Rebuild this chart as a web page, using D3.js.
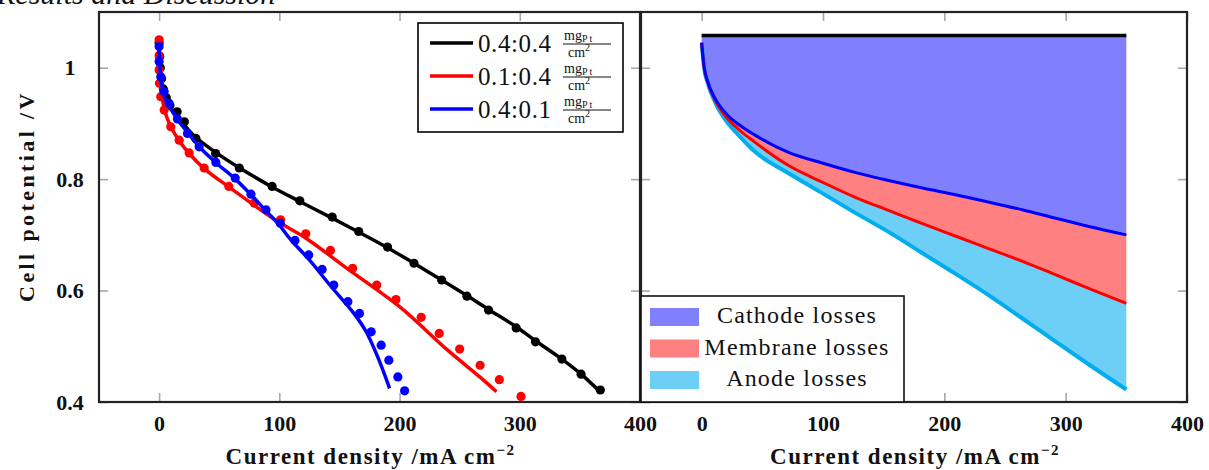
<!DOCTYPE html>
<html>
<head>
<meta charset="utf-8">
<script src="https://cdn.jsdelivr.net/npm/d3@7"></script>
<style>
  body { margin: 0; background: #fff; }
  svg text { font-family: "Liberation Serif", "Times New Roman", serif; fill: #111; }
</style>
</head>
<body>
<svg id="fig" width="1209" height="470"></svg>
<script>
// ---- data: [current density mA/cm2, cell potential V] ----
const dots_04_04 = [[0,1.045],[0.5,1.02],[1,1.0],[2,0.98],[3.5,0.962],[6,0.946],[9,0.932],[15,0.921],[21,0.903],[30.6,0.873],[47,0.846],[66.7,0.82],[94,0.787],[117,0.761],[144,0.732],[166,0.706],[190,0.678],[212,0.649],[235,0.619],[256,0.59],[274,0.565],[297,0.533],[313,0.508],[335,0.477],[351,0.45],[367,0.4215]];
const dots_01_04 = [[0,1.05],[0,1.022],[0,0.996],[0.3,0.972],[1.4,0.948],[4.2,0.924],[9.7,0.894],[16.7,0.87],[25,0.847],[37.5,0.82],[58,0.787],[79,0.757],[101,0.727],[122,0.702],[142.5,0.672],[161,0.64],[181,0.61],[197,0.584],[218,0.552],[233,0.523],[250,0.495],[267,0.466],[283,0.44],[301,0.41]];
const dots_04_01 = [[0,1.038],[0,1.011],[1.4,0.984],[4.2,0.957],[8.3,0.936],[15.3,0.908],[23.6,0.882],[33.3,0.858],[47.2,0.83],[63.3,0.802],[76.4,0.773],[88.9,0.745],[100.8,0.721],[113,0.69],[124.4,0.664],[135.6,0.638],[145.3,0.61],[157,0.58],[166.7,0.559],[176.4,0.526],[184.7,0.502],[191.1,0.475],[198.6,0.445],[204.2,0.42]];

const model_04_04 = [[0,1.045],[1,0.99],[3,0.962],[6,0.943],[10,0.927],[20,0.9],[30,0.876],[47,0.848],[67,0.82],[94,0.786],[117,0.76],[144,0.73],[166,0.705],[190,0.677],[212,0.649],[235,0.619],[256,0.591],[274,0.566],[297,0.535],[313,0.51],[335,0.477],[351,0.45],[365,0.422]];
const model_01_04 = [[0,1.05],[0.5,1.0],[2,0.955],[5,0.92],[10,0.893],[17,0.868],[25,0.846],[38,0.818],[58,0.786],[83,0.747],[100,0.722],[120,0.697],[160,0.634],[200,0.571],[240,0.493],[266.7,0.445],[280.6,0.4185]];
const model_04_01 = [[0,1.04],[1,0.99],[3,0.96],[6,0.94],[10,0.925],[15,0.908],[24,0.883],[33,0.859],[47,0.83],[63,0.801],[76,0.773],[88,0.745],[99,0.72],[110,0.69],[125,0.655],[142,0.61],[162,0.559],[172,0.527],[182,0.48],[191.7,0.4246]];

// loss breakdown (right panel)
const lossCurrent   = [0, 2, 5, 11, 20, 30, 44, 72, 100, 127, 155, 182, 210, 237, 265, 292, 320, 350];
const reversibleV   = 1.058;
const afterCathodeV = [1.045,1.002,0.975,0.945,0.918,0.899,0.879,0.8475,0.8285,0.8117,0.797,0.784,0.7716,0.7585,0.7447,0.7298,0.7147,0.700];
const afterMembrV   = [1.045,1.001,0.974,0.942,0.912,0.890,0.866,0.824,0.794,0.767,0.743,0.720,0.697,0.675,0.652,0.628,0.603,0.577];
const cellV         = [1.044,1.000,0.972,0.938,0.905,0.880,0.849,0.810,0.774,0.739,0.704,0.667,0.629,0.591,0.549,0.508,0.466,0.4225];

const seriesNames  = ["0.4:0.4", "0.1:0.4", "0.4:0.1"];
const lossNames    = ["Cathode losses", "Membrane losses", "Anode losses"];
const xTicks       = [0, 100, 200, 300, 400];
const yTicks       = [0.4, 0.6, 0.8, 1.0];
const yTickLabels  = ["0.4", "0.6", "0.8", "1"];

// ---- layout ----
const svg = d3.select("#fig");
const plotTop = 12, plotBottom = 402;
const y = d3.scaleLinear().domain([0.4, 1.1]).range([plotBottom, plotTop]);
const xL = d3.scaleLinear().domain([-50, 400]).range([99, 640]);
const xR = d3.scaleLinear().domain([-50, 400]).range([641, 1187]);

// running header of the page, cut by the top edge
svg.append("text")
  .attr("x", -3).attr("y", 4)
  .style("font-style", "italic").style("font-size", "30px")
  .text("Results and Discussion");

const drawAxes = (x, labelsY) => {
  const g = svg.append("g");
  const [x0, x1] = x.range();
  g.append("g").attr("transform", `translate(0,${plotBottom})`)
    .call(d3.axisBottom(x).tickValues(xTicks).tickSize(-9).tickPadding(13));
  g.append("g").attr("transform", `translate(0,${plotTop})`)
    .call(d3.axisTop(x).tickValues(xTicks).tickSize(-9).tickFormat(""));
  const left = g.append("g").attr("transform", `translate(${x0},0)`)
    .call(d3.axisLeft(y).tickValues(yTicks).tickSize(-9)
      .tickFormat((d, i) => labelsY ? yTickLabels[i] : ""));
  g.append("g").attr("transform", `translate(${x1},0)`)
    .call(d3.axisRight(y).tickValues(yTicks).tickSize(-9).tickFormat(""));

  g.selectAll(".domain").remove();
  g.selectAll(".tick line").attr("stroke", "#a8a8a8").attr("stroke-width", 1.6);
  g.selectAll(".tick text")
    .style("font-family", "'Liberation Serif', serif")
    .style("font-weight", "bold").style("font-size", "22px").attr("fill", "#111");
  left.selectAll(".tick text").attr("text-anchor", "middle").attr("x", -29);

  g.append("rect")
    .attr("x", x0).attr("y", plotTop).attr("width", x1 - x0).attr("height", plotBottom - plotTop)
    .attr("fill", "none").attr("stroke", "#222").attr("stroke-width", 2.2);

  const t = g.append("text")
    .attr("x", (x0 + x1) / 2 + 1).attr("y", 464)
    .attr("text-anchor", "middle")
    .style("font-weight", "bold").style("font-size", "23px").style("letter-spacing", "1.5px")
    .text("Current density /mA cm");
  t.append("tspan").attr("dy", -9).style("font-size", "15px").text("\u22122");
};

// ---- left panel: polarization curves ----
const colors = ["#000000", "#ff0000", "#0000ff"];
const dots = [dots_04_04, dots_01_04, dots_04_01];
const models = [model_04_04, model_01_04, model_04_01];

drawAxes(xL, true);

const line = d3.line().x(d => xL(d[0])).y(d => y(d[1])).curve(d3.curveCatmullRom.alpha(0.5));
const gl = svg.append("g");
models.forEach((m, i) => {
  gl.append("path").attr("d", line(m))
    .attr("fill", "none").attr("stroke", colors[i]).attr("stroke-width", 3.5);
  gl.selectAll(null).data(dots[i]).enter().append("circle")
    .attr("cx", d => xL(d[0])).attr("cy", d => y(d[1])).attr("r", 4.6)
    .attr("fill", colors[i]);
});

svg.append("text")
  .attr("transform", "translate(34,196) rotate(-90)")
  .attr("text-anchor", "middle")
  .style("font-weight", "bold").style("font-size", "22px").style("letter-spacing", "3.4px")
  .text("Cell potential /V");

// legend (left)
const lg = svg.append("g");
lg.append("rect").attr("x", 418).attr("y", 23).attr("width", 205).attr("height", 109)
  .attr("fill", "#fff").attr("stroke", "#000").attr("stroke-width", 1.6);
seriesNames.forEach((name, i) => {
  const cy = 43 + i * 33;
  lg.append("line").attr("x1", 430).attr("x2", 473).attr("y1", cy).attr("y2", cy)
    .attr("stroke", colors[i]).attr("stroke-width", 3.5);
  lg.append("text").attr("x", 478).attr("y", cy + 9)
    .style("font-size", "25px").style("letter-spacing", "0.6px").text(name);
  const num = lg.append("text").attr("x", 564).attr("y", cy - 3).style("font-size", "14px").text("mg");
  num.append("tspan").attr("dy", 2).style("font-size", "10px").style("letter-spacing", "2px").text("Pt");
  lg.append("line").attr("x1", 563).attr("x2", 611).attr("y1", cy + 1).attr("y2", cy + 1)
    .attr("stroke", "#111").attr("stroke-width", 1);
  const den = lg.append("text").attr("x", 568).attr("y", cy + 14).style("font-size", "14px").text("cm");
  den.append("tspan").attr("dy", -6).style("font-size", "10px").text("2");
});

// ---- right panel: loss breakdown ----
drawAxes(xR, false);

const rows = lossCurrent.map((c, i) => ({ c, cat: afterCathodeV[i], mem: afterMembrV[i], cell: cellV[i] }));
const fills = ["#8080ff", "#ff8080", "#6dcff6"];
const bands = [
  [d => reversibleV, d => d.cat],
  [d => d.cat, d => d.mem],
  [d => d.mem, d => d.cell]
];
const gr = svg.append("g");
bands.forEach((b, i) => {
  const area = d3.area().x(d => xR(d.c)).y0(d => y(b[0](d))).y1(d => y(b[1](d))).curve(d3.curveMonotoneX);
  gr.append("path").attr("d", area(rows)).attr("fill", fills[i]);
});
const rline = acc => d3.line().x(d => xR(d.c)).y(d => y(acc(d))).curve(d3.curveMonotoneX)(rows);
gr.append("path").attr("d", rline(d => reversibleV)).attr("fill", "none").attr("stroke", "#000").attr("stroke-width", 3.5);
gr.append("path").attr("d", rline(d => d.cell)).attr("fill", "none").attr("stroke", "#00aeef").attr("stroke-width", 4);
gr.append("path").attr("d", rline(d => d.mem)).attr("fill", "none").attr("stroke", "#ff0000").attr("stroke-width", 3);
gr.append("path").attr("d", rline(d => d.cat)).attr("fill", "none").attr("stroke", "#0000ff").attr("stroke-width", 3);

// legend (right)
const rg = svg.append("g");
rg.append("rect").attr("x", 641).attr("y", 296).attr("width", 263).attr("height", 106)
  .attr("fill", "#fff").attr("stroke", "#111").attr("stroke-width", 1.6);
lossNames.forEach((name, i) => {
  const sy = 308 + i * 31.5;
  rg.append("rect").attr("x", 650).attr("y", sy).attr("width", 49).attr("height", 18).attr("fill", fills[i]);
  rg.append("text").attr("x", 797).attr("y", sy + 15).attr("text-anchor", "middle")
    .style("font-size", "24px").style("letter-spacing", "1.2px").text(name);
});
</script>
</body>
</html>
